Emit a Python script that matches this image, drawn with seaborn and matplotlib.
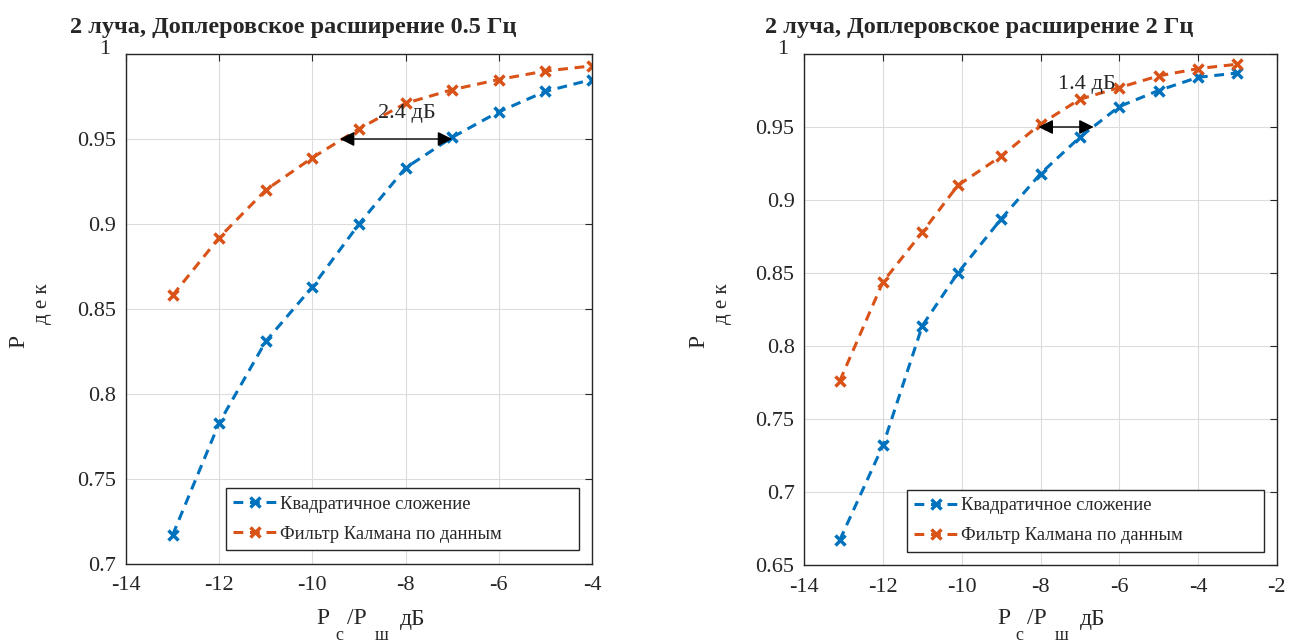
import numpy as np
import pandas as pd
import matplotlib
matplotlib.use("Agg")
import matplotlib.pyplot as plt
import matplotlib.transforms as mtransforms
import seaborn as sns

# ---- data ----
x_left = [-13, -12, -11, -10, -9, -8, -7, -6, -5, -4]
quad_left = [0.717, 0.783, 0.831, 0.863, 0.900, 0.933, 0.951, 0.966, 0.978, 0.985]
kalman_left = [0.858, 0.892, 0.920, 0.939, 0.956, 0.971, 0.979, 0.985, 0.990, 0.993]

x_right = [-13.1, -12, -11, -10.1, -9, -8, -7, -6, -5, -4, -3]
quad_right = [0.667, 0.732, 0.814, 0.850, 0.887, 0.918, 0.943, 0.964, 0.975, 0.984, 0.987]
kalman_right = [0.776, 0.844, 0.878, 0.910, 0.930, 0.952, 0.969, 0.977, 0.985, 0.990, 0.993]

series_names = ["Квадратичное сложение", "Фильтр Калмана по данным"]
titles = ["2 луча, Доплеровское расширение 0.5 Гц", "2 луча, Доплеровское расширение 2 Гц"]
yticks_left = [0.7, 0.75, 0.8, 0.85, 0.9, 0.95, 1.0]
yticks_right = [0.65, 0.7, 0.75, 0.8, 0.85, 0.9, 0.95, 1.0]
xticks_left = [-14, -12, -10, -8, -6, -4]
xticks_right = [-14, -12, -10, -8, -6, -4, -2]
arrow_left = (-9.41, -7.0, 0.95)
arrow_right = (-8.05, -6.65, 0.95)
gain_labels = ["2.4 дБ", "1.4 дБ"]

sns.set_style("white")
plt.rcParams["font.family"] = ["Liberation Serif", "DejaVu Serif"]

colors = ["#0072BD", "#D95319"]

fig = plt.figure(figsize=(13.13, 6.44), dpi=100)
ax1 = fig.add_axes([126/1313, 80/644, 466/1313, 510/644])
ax2 = fig.add_axes([804.3/1313, 79/644, 472.4/1313, 511/644])

def fmt(v):
    s = ("%.2f" % v).rstrip("0").rstrip(".")
    return s

def draw(ax, xs, q, k, xticks, yticks, ylim, xlim, arrow, glabel, gpos, legbox):
    df = pd.DataFrame({
        "x": list(xs) * 2,
        "y": list(q) + list(k),
        "s": [series_names[0]] * len(xs) + [series_names[1]] * len(xs),
    })
    for i, name in enumerate(series_names):
        sub = df[df["s"] == name]
        sns.lineplot(data=sub, x="x", y="y", ax=ax, color=colors[i],
                     linestyle=(0, (3.2, 2.2)), linewidth=2.2, marker="x",
                     markersize=7, markeredgewidth=2.5,
                     markeredgecolor=colors[i], markerfacecolor=colors[i],
                     label=name, estimator=None, sort=False)
    ax.set_xlim(*xlim)
    ax.set_ylim(*ylim)
    ax.set_xticks(xticks)
    ax.set_xticklabels([str(t) for t in xticks])
    ax.set_yticks(yticks)
    ax.set_yticklabels([fmt(t) for t in yticks])
    ax.grid(True, color="#dcdcdc", linewidth=0.8)
    ax.tick_params(direction="in", top=True, right=True, length=5,
                   labelsize=16, color="#262626", width=0.8)
    ax.tick_params(axis="x", pad=9)
    ax.tick_params(axis="y", pad=7)
    for sp in ax.spines.values():
        sp.set_color("#262626")
        sp.set_linewidth(1.0)
        sp.set_visible(True)
    ax.set_xlabel("")
    ax.set_ylabel("")
    # raise the top "1" label as in the reference
    lab = ax.get_yticklabels()[-1]
    lab.set_transform(lab.get_transform() +
                      mtransforms.ScaledTranslation(-6/100, 7/100, fig.dpi_scale_trans))
    ax.annotate("", xy=(arrow[0], arrow[2]), xytext=(arrow[1], arrow[2]),
                arrowprops=dict(arrowstyle="<|-|>", color="black", lw=1.0,
                                mutation_scale=22, shrinkA=0, shrinkB=0))
    ax.text(gpos[0], gpos[1], glabel, fontsize=16, ha="left", va="center")
    leg = ax.legend(loc="lower left", bbox_to_anchor=legbox, mode="expand",
                    fontsize=13.3, frameon=True, fancybox=False, framealpha=1,
                    edgecolor="#262626", handlelength=2.4, borderpad=0.4,
                    labelspacing=0.7, handletextpad=0.15, borderaxespad=0)
    leg.get_frame().set_linewidth(1.0)

draw(ax1, x_left, quad_left, kalman_left, xticks_left, yticks_left,
     (0.7, 1.0), (-14, -4), arrow_left, gain_labels[0], (-8.6, 0.965),
     (0.214, 0.0275, 0.758, 0.13))
draw(ax2, x_right, quad_right, kalman_right, xticks_right, yticks_right,
     (0.65, 1.0), (-14, -2), arrow_right, gain_labels[1], (-7.55, 0.979),
     (0.2168, 0.026, 0.756, 0.127))

# titles
fig.text(70/1313, 1 - 28/644, titles[0], fontsize=17.5, fontweight="bold",
         ha="left", va="center")
fig.text(765/1313, 1 - 28/644, titles[1], fontsize=17.5, fontweight="bold",
         ha="left", va="center")

# axis labels (P_c/P_ш дБ, P_дек)
for (px, slx, sx1, sx2, dbx) in [(316, 347, 335, 375, 400), (997, 1027, 1015, 1055, 1080)]:
    fig.text(px/1313, 1 - 619/644, "P", fontsize=17, ha="left", va="center")
    fig.text(slx/1313, 1 - 619/644, "/P", fontsize=17, ha="left", va="center")
    fig.text(dbx/1313, 1 - 619/644, "дБ", fontsize=17, ha="left", va="center")
    fig.text(sx1/1313, 1 - 636/644, "с", fontsize=13, ha="left", va="center")
    fig.text(sx2/1313, 1 - 636/644, "ш", fontsize=13, ha="left", va="center")

for px in [18.5, 698.5]:
    fig.text(px/1313, 1 - 341/644, "P", fontsize=17, rotation=90,
             ha="center", va="center")
    fig.text((px + 23.5)/1313, 1 - 304/644, "д е к", fontsize=15, rotation=90,
             ha="center", va="center")

fig.savefig("out.png", dpi=100)
